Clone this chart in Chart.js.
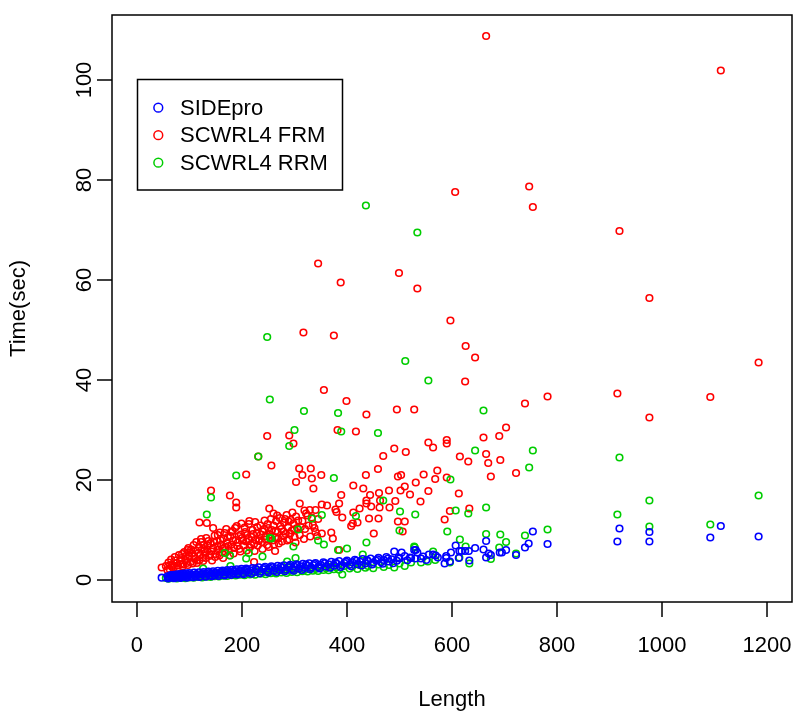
<!DOCTYPE html>
<html>
<head>
<meta charset="utf-8">
<title>Time vs Length</title>
<script src="https://cdn.jsdelivr.net/npm/chart.js@4.4.1/dist/chart.umd.min.js"></script>
<style>
  html, body { margin: 0; padding: 0; background: #fff; }
  #chart { display: block; }
</style>
</head>
<body>
<canvas id="chart" width="800" height="720"></canvas>
<script>
// Running time (sec) against protein length, one [length, time] pair per protein.

const xTicks = [0, 200, 400, 600, 800, 1000, 1200];
const yTicks = [0, 20, 40, 60, 80, 100];
const seriesNames = ['SIDEpro', 'SCWRL4 FRM', 'SCWRL4 RRM'];

const sidepro = [
  [47,0.47],[58,0.75],[60,0.4],[62,0.6],[64,1.0],[66,0.5],[68,0.7],[70,1.05],[72,0.45],[74,0.75],
  [76,1.15],[78,0.5],[80,0.8],[82,1.2],[84,0.55],[86,0.85],[88,1.3],[90,0.6],[92,0.9],[94,1.35],
  [96,0.65],[98,0.95],[100,1.4],[103,0.6],[106,1.0],[109,1.5],[112,0.7],[115,1.05],[118,1.55],[121,0.75],
  [124,1.15],[127,1.6],[130,0.8],[133,1.2],[136,1.7],[139,0.9],[142,1.3],[145,1.75],[148,0.95],[151,1.35],
  [154,1.85],[157,1.05],[160,1.45],[163,1.9],[166,1.1],[169,1.5],[172,2.0],[175,1.2],[178,1.6],[181,2.05],
  [184,1.25],[187,1.7],[190,2.15],[193,1.35],[196,1.75],[199,2.25],[202,1.4],[205,1.85],[208,2.3],[212,1.5],
  [216,1.95],[220,2.4],[224,1.6],[228,2.05],[232,2.55],[236,1.7],[240,2.15],[244,2.65],[248,1.8],[252,2.25],
  [256,2.75],[260,1.9],[264,2.35],[268,2.85],[272,2.0],[276,2.45],[280,2.95],[284,2.1],[288,2.55],[292,3.05],
  [296,2.2],[300,2.65],[304,3.15],[308,2.3],[312,2.75],[316,3.25],[320,2.4],[324,2.85],[328,3.35],[332,2.5],
  [336,2.95],[340,3.4],[345,2.6],[350,3.05],[355,3.55],[360,2.7],[365,3.15],[370,3.65],[375,2.85],[380,3.3],
  [385,3.8],[390,2.95],[395,3.4],[400,3.9],[405,3.05],[410,3.55],[415,4.05],[420,3.15],[425,3.65],[430,4.2],
  [435,3.3],[440,3.8],[445,4.3],[450,3.45],[455,3.9],[460,4.45],[465,3.55],[470,4.0],[475,4.6],[480,3.7],
  [485,4.15],[490,5.7],[495,3.85],[500,4.3],[504,5.5],[510,4.8],[515,3.95],[520,4.5],[522,4.4],[528,6.0],
  [530,4.3],[531,6.0],[534,5.5],[541,4.3],[545,4.7],[551,4.0],[556,5.1],[564,5.1],[569,4.9],[573,4.5],
  [586,3.3],[589,4.8],[589,4.4],[596,3.7],[598,5.5],[607,6.9],[613,4.4],[614,5.8],[618,5.8],[625,5.8],
  [632,5.8],[633,3.9],[644,6.4],[660,6.1],[665,7.8],[665,4.5],[670,5.3],[674,5.0],[691,5.5],[695,5.5],
  [703,6.0],[722,5.0],[739,6.5],[746,7.3],[754,9.7],[782,7.2],[915,7.7],[919,10.3],[976,7.7],[976,9.6],
  [1092,8.5],[1112,10.8],[1184,8.7],
  [59,0.3],[65,0.85],[71,0.35],[77,0.9],[83,0.4],[89,1.0],[95,0.45],[101,1.1],[107,0.55],[113,1.2],
  [119,0.6],[125,1.35],[131,0.65],[137,1.4],[143,0.75],[149,1.5],[155,0.8],[161,1.65],[167,0.9],[173,1.75],
  [179,1.0],[185,1.85],[191,1.1],[197,1.95],[203,1.15],[210,2.1],[218,1.25],[226,2.25],[234,1.35],[242,2.4],
  [250,1.5],[258,2.55],[266,1.6],[274,2.7],[282,1.75],[290,2.8],[298,1.85],[306,2.95],[314,2.0],[322,3.1],
  [330,2.15],[338,3.2],[348,2.3],[358,3.35],[368,2.45],[378,3.5],[388,2.6],[398,3.65],[408,2.75],[418,3.85],
  [428,2.9],[438,4.0],[448,3.1],[458,4.15],[468,3.25],[478,4.3],[488,3.35],[498,4.5]
];

const scwrlFrm = [
  // dense cluster of short chains
  [55,2.8],[60,3.5],[62,2.2],[65,4.1],[68,3.0],[70,2.5],[72,4.6],[75,3.4],[78,2.9],[80,5.0],
  [82,3.8],[85,4.4],[88,3.1],[90,5.6],[92,4.0],[95,3.4],[98,6.4],[100,4.7],[102,3.6],[105,5.3],
  [108,7.0],[110,4.2],[112,5.9],[115,3.9],[118,6.6],[120,5.0],[122,7.6],[125,4.5],[128,6.2],[130,5.4],
  [132,8.4],[135,6.9],[138,4.8],[140,7.3],[142,5.7],[145,6.4],[148,8.9],[150,5.2],[152,7.8],[155,6.1],
  [158,9.5],[160,7.0],[162,5.5],[165,8.3],[168,6.6],[170,10.2],[172,7.4],[175,5.9],[178,8.8],[180,7.1],
  [182,9.8],[185,6.4],[188,8.0],[190,10.8],[192,7.5],[195,6.2],[198,9.1],[200,8.4],[203,6.9],[205,10.5],
  [208,7.7],[210,9.0],[213,11.2],[215,6.5],[218,8.6],[220,10.0],[223,7.2],[225,11.6],[228,9.4],[230,6.9],
  [233,8.2],[235,10.9],[238,7.6],[240,9.7],[243,11.9],[245,8.8],[248,7.0],[250,10.4],[253,9.1],[255,12.2],
  [258,7.9],[260,10.9],[263,8.5],[265,11.8],[268,9.6],[270,7.3],[272,12.4],[275,10.2],[278,8.8],[280,11.5],
  [283,9.2],[285,13.0],[288,10.6],[290,8.1],[293,12.0],[295,9.9],[298,11.3],[300,8.6],[303,12.7],[305,10.4],
  [310,9.0],[315,11.8],[320,10.2],[325,12.9],[330,8.7],[335,11.0],[340,9.6],[345,12.2],
  [58,2.0],[63,3.0],[67,2.6],[73,3.9],[77,2.4],[83,3.2],[86,5.2],[87,2.7],[93,4.8],[97,3.0],
  [99,5.5],[103,6.1],[106,3.3],[109,4.8],[113,7.6],[114,3.4],[117,5.4],[119,4.0],[123,6.0],[126,3.8],
  [127,7.0],[131,4.4],[134,6.0],[136,7.8],[139,5.1],[143,3.9],[146,7.6],[149,4.6],[153,6.8],[154,9.0],
  [157,4.9],[159,8.0],[163,6.3],[164,4.4],[167,9.4],[169,5.5],[173,8.6],[174,6.8],[177,4.9],[179,9.6],
  [183,7.9],[184,5.3],[187,10.4],[191,6.8],[194,8.8],[197,5.7],[199,11.3],[202,7.9],[206,9.6],[209,5.9],
  [212,8.2],[214,11.8],[217,7.1],[221,9.2],[224,5.8],[226,8.0],[229,10.6],[232,7.8],[236,9.1],[239,6.2],
  [242,10.2],[246,8.1],[249,11.2],[251,6.6],[254,8.6],[257,10.0],[261,7.1],[264,9.8],[267,12.9],[269,8.3],
  [273,10.8],[276,7.7],[279,9.7],[282,12.2],[286,7.9],[289,11.7],[292,9.3],[296,13.5],[299,10.1],[302,7.5],
  [307,11.9],[312,10.6],[318,8.2],[322,13.3],[327,10.9],[333,12.5],[338,10.4],[343,8.8],
  // scattered points
  [47,2.5],[96,6.0],[119,11.5],[122,8.2],[133,11.4],[141,17.9],[145,10.4],[177,16.9],[189,15.5],[189,14.5],
  [208,21.1],[223,3.6],[231,24.7],[248,28.8],[252,14.3],[256,22.9],[260,13.3],[263,5.8],[290,28.9],[298,27.3],
  [303,19.6],[309,22.3],[310,15.3],[315,21.0],[317,49.5],[319,13.9],[329,14.0],[331,22.3],[333,20.3],[336,18.3],
  [340,14.0],[345,63.3],[351,21.0],[352,15.1],[352,9.3],[356,38.0],[362,14.9],[370,9.5],[373,8.3],[375,48.9],
  [378,14.1],[380,13.6],[382,30.0],[385,15.3],[385,6.0],[388,59.5],[389,17.0],[391,12.5],[399,35.8],[408,10.8],
  [411,11.3],[412,18.9],[412,13.5],[417,29.7],[420,11.5],[424,14.3],[431,18.3],[436,21.0],[437,33.1],[437,15.9],
  [437,15.3],[442,12.3],[444,17.0],[446,14.7],[451,9.3],[459,22.2],[460,12.3],[461,17.4],[462,14.5],[463,15.9],
  [469,24.8],[480,17.9],[481,14.5],[490,26.3],[492,15.8],[495,34.1],[497,20.7],[497,11.7],[499,61.4],[502,17.9],
  [503,21.0],[506,9.7],[510,18.7],[510,11.7],[512,25.6],[520,17.1],[528,34.1],[531,19.5],[534,58.3],[540,15.7],
  [546,21.1],[555,27.5],[555,17.8],[564,26.5],[568,20.2],[572,21.9],[586,12.1],[590,28.0],[590,27.3],[590,20.5],
  [596,13.8],[597,51.9],[606,77.6],[613,17.3],[615,24.7],[625,39.7],[626,46.8],[631,23.7],[633,14.3],[644,44.5],
  [660,28.5],[665,108.8],[665,25.2],[669,23.4],[674,20.7],[690,28.8],[692,24.0],[703,30.5],[722,21.4],[739,35.3],
  [747,78.7],[754,74.6],[782,36.7],[915,37.3],[919,69.8],[976,56.4],[976,32.5],[1092,36.6],[1112,101.9],[1184,43.5]
];

const scwrlRrm = [
  [55,0.4],[60,0.25],[64,0.7],[68,0.35],[72,0.55],[76,0.3],[80,0.75],[84,0.45],[88,0.6],[92,0.35],
  [96,0.85],[100,0.5],[104,0.7],[108,0.45],[112,0.95],[116,0.6],[120,0.8],[124,0.5],[128,1.05],[132,0.65],
  [136,0.9],[140,0.6],[144,1.15],[148,0.75],[152,1.0],[156,0.7],[160,1.25],[164,0.85],[168,1.1],[172,0.8],
  [176,1.35],[180,0.95],[184,1.2],[188,0.9],[192,1.45],[196,1.05],[200,1.3],[205,0.95],[210,1.6],[215,1.1],
  [220,1.4],[225,1.05],[230,1.7],[235,1.25],[240,1.55],[245,1.15],[250,1.85],[255,1.35],[260,1.65],[265,1.3],
  [270,2.0],[275,1.5],[280,1.8],[285,1.4],[290,2.1],[295,1.6],[300,1.95],[305,1.55],[310,2.25],[315,1.75],
  [320,2.05],[325,1.7],[330,2.4],[335,1.85],[340,2.2],[345,1.8],[350,2.55],[355,2.0],[360,2.35],[365,1.95],
  [370,2.7],[375,2.15],[380,2.5],[385,2.05],[395,2.8],[405,2.3],[410,2.65],[420,2.2],[425,2.95],[435,2.45],
  [440,2.8],[450,2.35],[460,3.1],[470,2.6],[480,3.0],[490,2.5],[500,3.3],[510,2.8],
  [436,74.9],[534,69.5],[248,48.6],[511,43.8],[555,39.9],[253,36.1],[660,33.9],[318,33.8],[383,33.4],[300,30.0],
  [389,29.7],[459,29.4],[290,26.8],[644,25.9],[231,24.7],[754,25.9],[919,24.5],[747,22.5],[375,20.4],[189,20.9],
  [597,20.1],[141,16.5],[1184,16.9],[976,15.9],[469,15.9],[665,14.5],[133,13.1],[352,13.0],[607,13.9],[501,13.7],
  [530,13.1],[631,13.3],[333,12.3],[417,12.8],[915,13.1],[1092,11.1],[976,10.7],[307,10.1],[782,10.1],[500,9.9],
  [591,9.7],[665,9.2],[692,9.1],[739,8.9],[256,8.3],[253,8.4],[615,8.1],[345,7.9],[703,7.6],[437,7.5],
  [356,7.1],[298,6.7],[626,6.7],[528,6.7],[690,6.5],[529,6.5],[383,6.0],[400,6.3],[564,5.7],[167,5.4],
  [213,5.4],[722,5.3],[430,5.1],[177,4.9],[239,4.7],[208,4.3],[614,4.5],[302,4.4],[674,4.2],[568,4.0],
  [286,3.7],[554,3.7],[541,3.5],[596,3.5],[522,3.5],[633,3.3],[126,2.3],[178,2.8],[391,1.1]
];

const FONT = '"Liberation Sans", Arial, Helvetica, sans-serif';
const seriesColors = ['#0000FF', '#FF0000', '#00CD00'];

function toPoints(pairs) {
  return pairs.map(function (p) { return { x: p[0], y: p[1] }; });
}

function strokeLine(ctx, x1, y1, x2, y2) {
  ctx.beginPath();
  ctx.moveTo(x1, y1);
  ctx.lineTo(x2, y2);
  ctx.stroke();
}

// R-style frame: box round the plot, ticks pointing out, rotated y labels
const frameAxes = {
  id: 'frameAxes',
  afterDraw(chart) {
    const ctx = chart.ctx;
    const area = chart.chartArea;
    const xs = chart.scales.x;
    const ys = chart.scales.y;
    ctx.save();
    ctx.strokeStyle = '#000';
    ctx.fillStyle = '#000';
    ctx.lineWidth = 1.5;
    ctx.strokeRect(area.left, area.top, area.right - area.left, area.bottom - area.top);

    ctx.font = '22px ' + FONT;
    ctx.textAlign = 'center';
    ctx.textBaseline = 'middle';
    xTicks.forEach(function (v) {
      const px = xs.getPixelForValue(v);
      strokeLine(ctx, px, area.bottom, px, area.bottom + 15);
      ctx.fillText(String(v), px, 646);
    });
    yTicks.forEach(function (v) {
      const py = ys.getPixelForValue(v);
      strokeLine(ctx, area.left, py, area.left - 15, py);
      ctx.save();
      ctx.translate(85, py);
      ctx.rotate(-Math.PI / 2);
      ctx.fillText(String(v), 0, 0);
      ctx.restore();
    });

    ctx.fillText('Length', (area.left + area.right) / 2, 700);
    ctx.save();
    ctx.translate(19, (area.top + area.bottom) / 2);
    ctx.rotate(-Math.PI / 2);
    ctx.fillText('Time(sec)', 0, 0);
    ctx.restore();

    // legend box
    ctx.lineWidth = 1.5;
    ctx.strokeRect(137.5, 79.5, 205, 110.5);
    ctx.textAlign = 'left';
    seriesNames.forEach(function (name, i) {
      const cy = 107.7 + i * 27.5;
      ctx.strokeStyle = seriesColors[i];
      ctx.lineWidth = 1.5;
      ctx.beginPath();
      ctx.arc(158.3, cy, 4.4, 0, Math.PI * 2);
      ctx.stroke();
      ctx.fillStyle = '#000';
      ctx.fillText(name, 180, cy + 1);
    });
    ctx.restore();
  }
};

function makeDataset(i, pairs, order) {
  return {
    label: seriesNames[i],
    data: toPoints(pairs),
    order: order,
    borderColor: seriesColors[i],
    backgroundColor: 'rgba(0,0,0,0)',
    pointRadius: 3.3,
    pointHoverRadius: 3.3,
    pointBorderWidth: 1.6
  };
}

new Chart(document.getElementById('chart'), {
  type: 'scatter',
  data: {
    datasets: [
      makeDataset(0, sidepro, 0),
      makeDataset(1, scwrlFrm, 2),
      makeDataset(2, scwrlRrm, 1)
    ]
  },
  options: {
    responsive: false,
    animation: false,
    devicePixelRatio: 1,
    layout: { padding: { left: 112, right: 8, top: 15, bottom: 118 } },
    plugins: {
      legend: { display: false },
      tooltip: { enabled: false }
    },
    scales: {
      x: { type: 'linear', min: -47.6, max: 1247.6, display: false },
      y: { type: 'linear', min: -4.4, max: 113, display: false }
    }
  },
  plugins: [frameAxes]
});
</script>
</body>
</html>
